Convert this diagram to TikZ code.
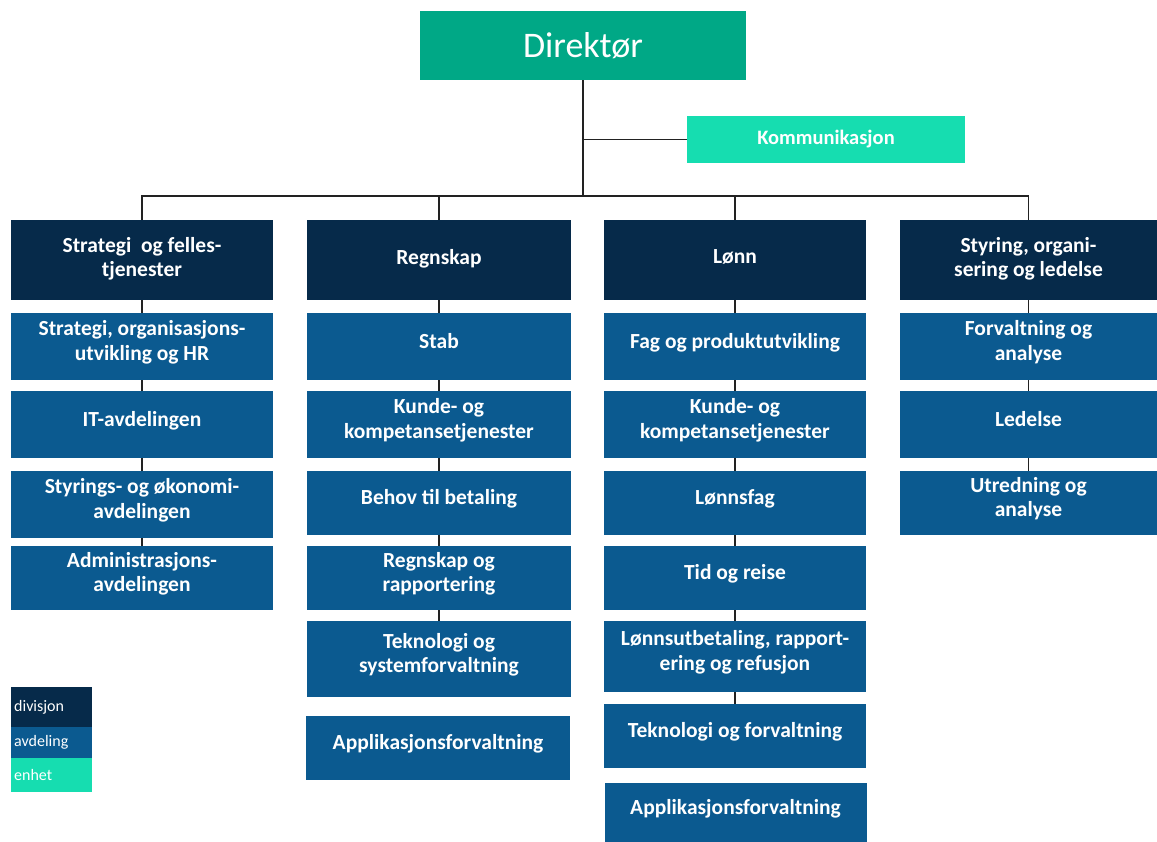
\documentclass[tikz,border=0pt]{standalone}
\usepackage{fontspec}
\setmainfont{Carlito}
\definecolor{divc}{HTML}{062A4A}
\definecolor{avdc}{HTML}{0B5A90}
\definecolor{dirc}{HTML}{00A886}
\definecolor{enhc}{HTML}{16DDB0}
\definecolor{linec}{HTML}{222222}
\tikzset{
  box/.style={rectangle, inner sep=2pt, align=center, text=white, text depth=12pt, font=\bfseries\fontsize{21.5}{24.5}\selectfont},
  divbox/.style={box, fill=divc, text depth=6pt},
  avdbox/.style={box, fill=avdc},
  c1/.style={minimum width=262pt},
  c2/.style={minimum width=264pt},
  c3/.style={minimum width=262pt},
  c4/.style={minimum width=257pt},
  conn/.style={draw=linec, line width=1.2pt},
  legbox/.style={rectangle, text width=75pt, anchor=north west, text=white, font=\fontsize{16}{18}\selectfont, align=left, inner xsep=3pt, inner ysep=0pt},
}
\begin{document}
\begin{tikzpicture}[x=1pt,y=-1pt]
\useasboundingbox (0,0) rectangle (1157,842);
% director and communication
\node[rectangle, fill=dirc, minimum width=326pt, minimum height=69pt, text=white, font=\fontsize{36}{40}\selectfont] (dir) at (583,45.5) {Direktør};
\node[rectangle, fill=enhc, minimum width=278pt, minimum height=47pt, text=white, font=\bfseries\fontsize{20.5}{24}\selectfont] (kom) at (826,139.5) {Kommunikasjon};
\coordinate (bus) at (583,196);
% divisions
\node[divbox,c1,minimum height=80pt] (d1) at (142,260) {Strategi\ \ og felles-\\tjenester};
\node[divbox,c2,minimum height=80pt] (d2) at (439,260) {Regnskap};
\node[divbox,c3,minimum height=80pt] (d3) at (735,260) {Lønn};
\node[divbox,c4,minimum height=80pt] (d4) at (1028.5,260) {Styring, organi-\\sering og ledelse};
% column 1
\node[avdbox,c1,minimum height=67pt] (a11) at (142,346.5) {Strategi, organisasjons-\\utvikling og HR};
\node[avdbox,c1,minimum height=67pt] (a12) at (142,424.5) {IT-avdelingen};
\node[avdbox,c1,minimum height=67pt] (a13) at (142,504.5) {Styrings- og økonomi-\\avdelingen};
\node[avdbox,c1,minimum height=64pt] (a14) at (142,578) {Administrasjons-\\avdelingen};
% column 2
\node[avdbox,c2,minimum height=67pt] (a21) at (439,346.5) {Stab};
\node[avdbox,c2,minimum height=67pt] (a22) at (439,424.5) {Kunde- og\\kompetansetjenester};
\node[avdbox,c2,minimum height=64pt] (a23) at (439,503) {Behov til betaling};
\node[avdbox,c2,minimum height=64pt] (a24) at (439,578) {Regnskap og\\rapportering};
\node[avdbox,c2,minimum height=76pt] (a25) at (439,659) {Teknologi og\\systemforvaltning};
\node[avdbox,c2,minimum height=64pt] (a26) at (438,748) {Applikasjonsforvaltning};
% column 3
\node[avdbox,c3,minimum height=67pt] (a31) at (735,346.5) {Fag og produktutvikling};
\node[avdbox,c3,minimum height=67pt] (a32) at (735,424.5) {Kunde- og\\kompetansetjenester};
\node[avdbox,c3,minimum height=64pt] (a33) at (735,503) {Lønnsfag};
\node[avdbox,c3,minimum height=64pt] (a34) at (735,578) {Tid og reise};
\node[avdbox,c3,minimum height=71pt] (a35) at (735,656.5) {Lønnsutbetaling, rapport-\\ering og refusjon};
\node[avdbox,c3,minimum height=64pt] (a36) at (735,736) {Teknologi og forvaltning};
\node[avdbox,c3,minimum height=59pt] (a37) at (735.5,812.5) {Applikasjonsforvaltning};
% column 4
\node[avdbox,c4,minimum height=67pt] (a41) at (1028.5,346.5) {Forvaltning og\\analyse};
\node[avdbox,c4,minimum height=67pt] (a42) at (1028.5,424.5) {Ledelse};
\node[avdbox,c4,minimum height=64pt] (a43) at (1028.5,503) {Utredning og\\analyse};
% legend
\node[legbox, fill=divc, minimum height=40pt] (l1) at (11,687) {divisjon};
\node[legbox, fill=avdc, minimum height=31pt] (l2) at (11,727) {avdeling};
\node[legbox, fill=enhc, minimum height=34pt] (l3) at (11,758) {enhet};
% connectors
\draw[conn] (dir.south) -- (bus);
\draw[conn] (dir.south |- kom.west) -- (kom.west);
\draw[conn] (d1.north) -- (d1.north |- bus) -- (d4.north |- bus) -- (d4.north);
\draw[conn] (d2.north) -- (d2.north |- bus);
\draw[conn] (d3.north) -- (d3.north |- bus);
\foreach \c in {1,2,3,4}{\draw[conn] (d\c.south) -- (a\c1.north);}
\foreach \c/\n/\m in {1/1/2,1/2/3,1/3/4,2/1/2,2/2/3,2/3/4,2/4/5,3/1/2,3/2/3,3/3/4,3/4/5,3/5/6,4/1/2,4/2/3}{
  \draw[conn] (a\c\n.south) -- (a\c\m.north);}
\end{tikzpicture}
\end{document}
